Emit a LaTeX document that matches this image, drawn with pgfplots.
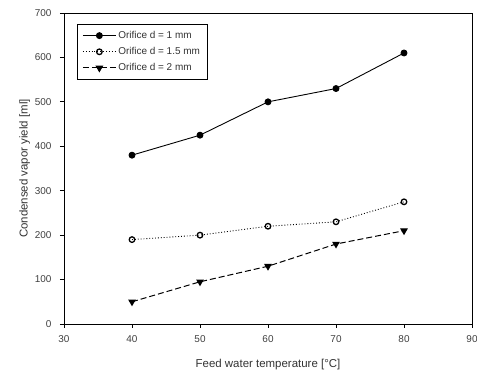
\documentclass[border=0pt]{standalone}
\usepackage{pgfplots}
\pgfplotsset{compat=1.18}
\usepackage{fontspec}
\setmainfont{Liberation Sans}
\begin{document}
\begin{tikzpicture}
\begin{axis}[
  scale only axis,
  width=408bp, height=311bp,
  xmin=30, xmax=90, ymin=0, ymax=700,
  xtick={30,40,...,90}, ytick={0,100,...,700},
  tick align=outside, xtick pos=bottom, ytick pos=left,
  major tick length=4bp,
  /pgf/number format/assume math mode=true,
  tick label style={font=\fontsize{10}{12}\selectfont, text=black!75},
  xticklabel style={yshift=-4bp},
  yticklabel style={xshift=-5bp},
  label style={font=\fontsize{11.5}{13}\selectfont, text=black!80},
  xlabel={Feed water temperature [\textdegree C]},
  ylabel={Condensed vapor yield [ml]},
  xlabel style={yshift=-10bp},
  ylabel style={yshift=-2bp},
  axis line style={line width=0.9pt},
  every tick/.style={line width=0.9pt, black},
  legend style={at={(0.032,0.965)}, anchor=north west, font=\fontsize{10}{12}\selectfont, draw=black, line width=0.8pt, inner xsep=5pt, inner ysep=5pt, row sep=3.5pt, cells={anchor=west}, text=black!80},
  legend cell align=left,
  legend image code/.code={\draw[mark repeat=2,mark phase=2,#1] plot coordinates {(0cm,0cm) (0.58cm,0cm) (1.16cm,0cm)};},
]
\addplot[black, line width=0.9pt, mark=*, mark size=3pt, mark options={solid}] coordinates {(40,380) (50,425) (60,500) (70,530) (80,610)};
\addlegendentry{Orifice d = 1 mm}
\addplot[black, dotted, line width=0.9pt, mark=o, mark size=2.8pt, mark options={solid, fill=white, line width=1.3pt}] coordinates {(40,190) (50,200) (60,220) (70,230) (80,275)};
\addlegendentry{Orifice d = 1.5 mm}
\addplot[black, dash pattern=on 6bp off 3bp, line width=1pt, mark=triangle*, mark size=3.5pt, mark options={solid, rotate=180}] coordinates {(40,50) (50,95) (60,130) (70,180) (80,210)};
\addlegendentry{Orifice d = 2 mm}
\end{axis}
\pgfresetboundingbox
\path (current axis.south west) ++(-64bp,-50bp) coordinate (bl);
\path (current axis.north east) ++(5bp,13bp) coordinate (tr);
\path[use as bounding box] (bl) rectangle (tr);
\end{tikzpicture}
\end{document}
